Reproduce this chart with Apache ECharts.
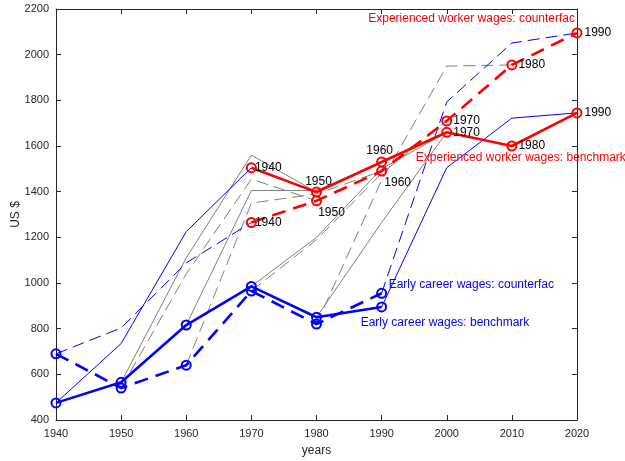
<!DOCTYPE html>
<html><head><meta charset="utf-8">
<script src="https://cdn.jsdelivr.net/npm/echarts@6/dist/echarts.min.js"></script>
<style>html,body{margin:0;padding:0;background:#fff}#c{width:625px;height:461px}</style>
</head><body><div id="c"></div>
<script>
// ---- data ----
const years = [1940, 1950, 1960, 1970, 1980, 1990, 2000, 2010, 2020];
const cohortLabels = ['1940', '1950', '1960', '1970', '1980', '1990'];
const earlyBench = [475, 565, 816, 985, 850, 895];      // 1940..1990
const earlyCf = [690, 540, 640, 965, 820, 955];         // 1940..1990
const expBench = [1505, 1398, 1530, 1660, 1600, 1745];  // 1970..2020
const expCf = [1265, 1360, 1490, 1710, 1955, 2095];     // 1970..2020
const cohortBenchMid = [[735, 1225], [1110, 1560], [1405, 1405], [1200, 1500], [1265, 1660], [1505, 1722]];
const cohortCfMid = [[803, 1088], [1040, 1455], [1350, 1390], [1190, 1480], [1450, 1950], [1793, 2051]];
const yTicks = [400, 600, 800, 1000, 1200, 1400, 1600, 1800, 2000, 2200];
const seriesNames = ['Experienced worker wages: counterfac', 'Experienced worker wages: benchmark',
  'Early career wages: counterfac', 'Early career wages: benchmark'];

// ---- styling ----
const FONT = "'Liberation Sans', Arial, Helvetica, sans-serif";
const RED = '#ff0000', BLUE = '#0000ff', GRAY = '#808080', AX = '#262626';
const THIN_DASH = [12, 6], THICK_DASH = [14, 8];

const chart = echarts.init(document.getElementById('c'), null, {renderer: 'canvas'});

const earlyYears = years.slice(0, 6);
const expYears = years.slice(3);

const series = [];
[false, true].forEach(function (isCf) {
  for (let k = 0; k < 6; k++) {
    const mid = isCf ? cohortCfMid[k] : cohortBenchMid[k];
    const early = isCf ? earlyCf[k] : earlyBench[k];
    const exp = isCf ? expCf[k] : expBench[k];
    const y0 = earlyYears[k];
    const blue = (k === 0 || k === 5);
    series.push({
      type: 'line', symbol: 'none', silent: true,
      z: blue ? 3 : 2,
      data: [[y0, early], [years[k + 1], mid[0]], [years[k + 2], mid[1]], [years[k + 3], exp]],
      lineStyle: {color: blue ? BLUE : GRAY, width: 1, type: isCf ? THIN_DASH : 'solid'}
    });
  }
});

const labelText = {color: '#000', fontSize: 12, fontFamily: FONT};
const benchLabelCfg = [
  {position: 'right', distance: -2},
  {position: 'top', distance: -1, offset: [2, 0]},
  {position: 'top', distance: 0, offset: [-2, 0]},
  {position: 'right', distance: 1},
  {position: 'right', distance: 1},
  {position: 'right', distance: 2}
];
const cfLabelCfg = [
  {position: 'right', distance: -2},
  {position: 'bottom', distance: 0, offset: [15, 0]},
  {position: 'bottom', distance: 0, offset: [16, 0]},
  {position: 'right', distance: 1},
  {position: 'right', distance: 1},
  {position: 'right', distance: 2}
];

function thick(xs, vals, color, dashed, labels, labelCfg) {
  return {
    type: 'line', z: 5, silent: true,
    symbol: 'circle', symbolSize: 9, showAllSymbol: true,
    itemStyle: {color: 'rgba(255,255,255,0)', borderColor: color, borderWidth: 2},
    lineStyle: {color: color, width: 2.6, type: dashed ? THICK_DASH : 'solid'},
    data: xs.map(function (x, i) {
      const d = {value: [x, vals[i]]};
      if (labels) {
        d.label = Object.assign({show: true, formatter: labels[i]}, labelText, labelCfg[i]);
      }
      return d;
    })
  };
}

series.push(thick(earlyYears, earlyCf, BLUE, true));
series.push(thick(earlyYears, earlyBench, BLUE, false));
series.push(thick(expYears, expCf, RED, true, cohortLabels, cfLabelCfg));
series.push(thick(expYears, expBench, RED, false, cohortLabels, benchLabelCfg));

const axisCommon = {
  axisLine: {show: true, onZero: false, lineStyle: {color: AX, width: 1}},
  axisTick: {show: true, inside: true, length: 5, lineStyle: {color: AX}},
  splitLine: {show: false}
};
const xBase = Object.assign({type: 'value', min: years[0], max: years[years.length - 1], interval: 10}, axisCommon);
const yBase = Object.assign({type: 'value', min: yTicks[0], max: yTicks[yTicks.length - 1], interval: 200}, axisCommon);

chart.setOption({
  animation: false,
  backgroundColor: '#fff',
  grid: {left: 56, top: 9, width: 521, height: 411, containLabel: false, outerBoundsMode: 'none'},
  xAxis: [
    Object.assign({}, xBase, {
      position: 'bottom',
      axisLabel: {color: AX, fontSize: 11, fontFamily: FONT, margin: 8, formatter: function (v) { return String(v); }},
      name: 'years', nameLocation: 'middle', nameGap: 25, nameMoveOverlap: false,
      nameTextStyle: {color: AX, fontSize: 12, fontFamily: FONT}
    }),
    Object.assign({}, xBase, {position: 'top', axisLabel: {show: false}})
  ],
  yAxis: [
    Object.assign({}, yBase, {
      position: 'left',
      axisLabel: {color: AX, fontSize: 11, fontFamily: FONT, margin: 7, formatter: function (v) { return String(v); }},
      name: 'US $', nameLocation: 'middle', nameGap: 34, nameRotate: 90, nameMoveOverlap: false,
      nameTextStyle: {color: AX, fontSize: 12, fontFamily: FONT}
    }),
    Object.assign({}, yBase, {position: 'right', axisLabel: {show: false}})
  ],
  series: series
});

function px(x, v) { return chart.convertToPixel({gridIndex: 0}, [x, v]); }
const anchors = [
  {p: px(expYears[5], expCf[5]), dx: -2, dy: -14, align: 'right', color: RED},
  {p: px(expYears[3], expBench[3]), dx: -31, dy: 25, align: 'left', color: RED},
  {p: px(earlyYears[5], earlyCf[5]), dx: 7, dy: -9, align: 'left', color: BLUE},
  {p: px(earlyYears[5], earlyBench[5]), dx: -21, dy: 16, align: 'left', color: BLUE}
];
chart.setOption({
  graphic: anchors.map(function (a, i) {
    return {
      type: 'text', z: 10, silent: true,
      x: a.p[0] + a.dx, y: a.p[1] + a.dy,
      style: {text: seriesNames[i], fill: a.color, font: '12px ' + FONT, textAlign: a.align, textVerticalAlign: 'middle'}
    };
  })
});
</script>
</body></html>
